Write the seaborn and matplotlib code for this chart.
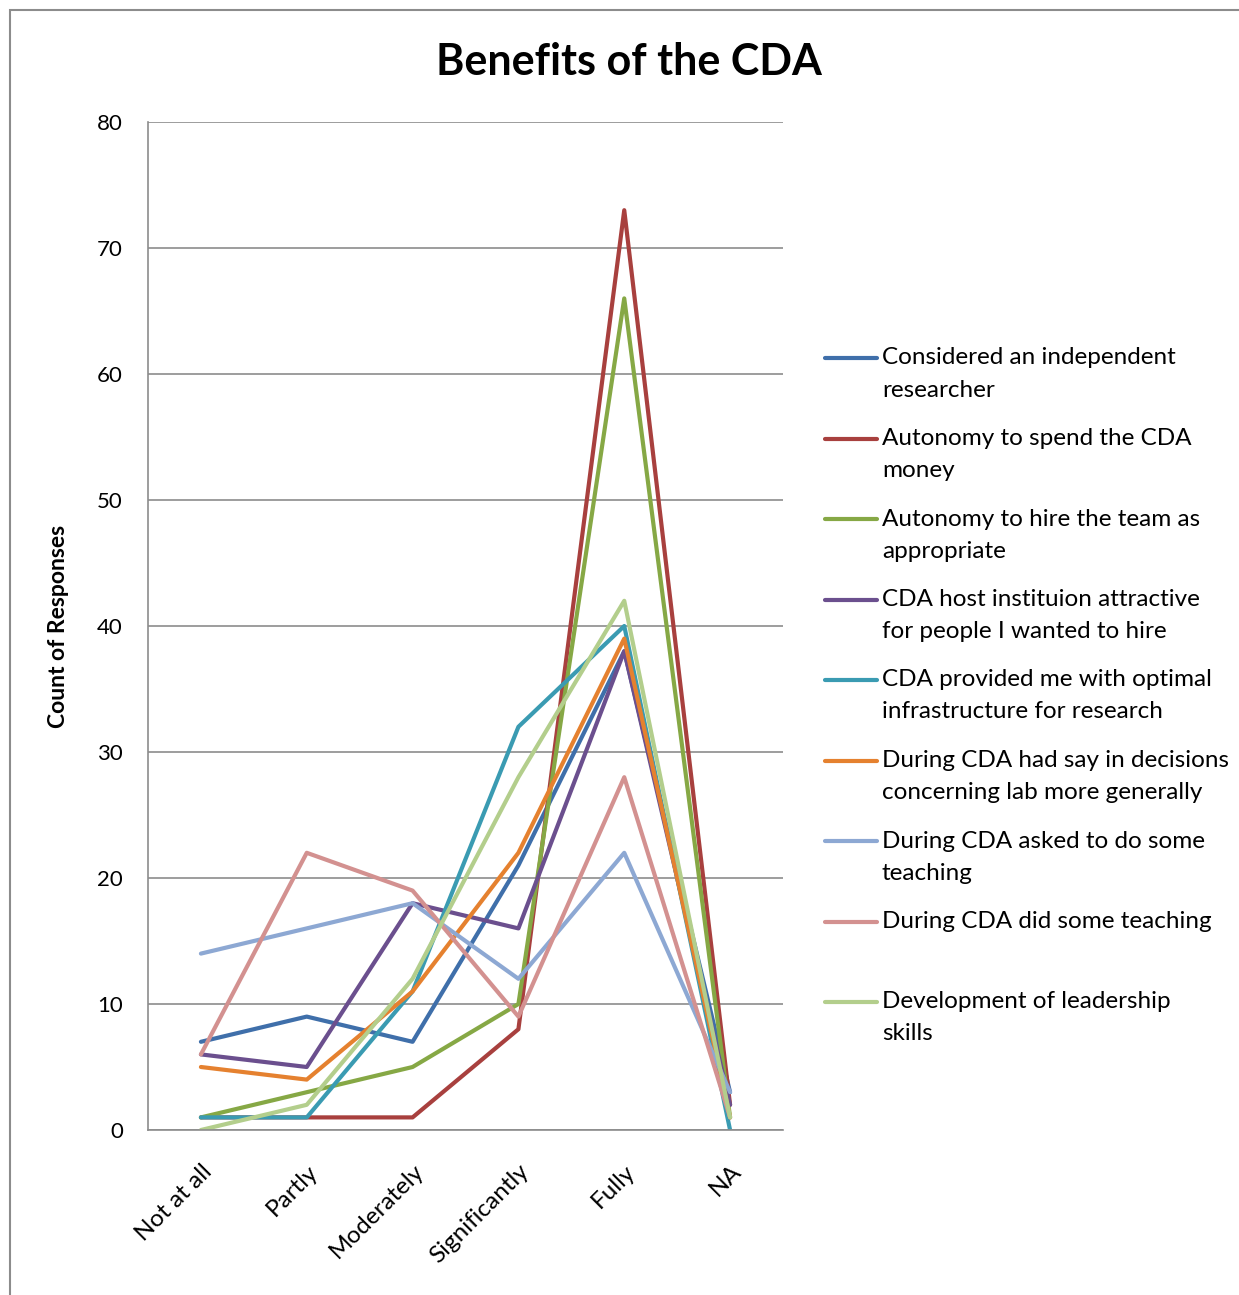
import matplotlib
matplotlib.use("Agg")
import matplotlib.pyplot as plt
from matplotlib.lines import Line2D
from matplotlib.patches import Rectangle
import seaborn as sns
import pandas as pd

# Response levels on the x axis
levels = ["Not at all", "Partly", "Moderately", "Significantly", "Fully", "NA"]

# Count of responses per benefit, one list per level above
independent_researcher = [7, 9, 7, 21, 38, 3]
autonomy_money = [1, 1, 1, 8, 73, 2]
autonomy_hire = [1, 3, 5, 10, 66, 1]
host_attractive = [6, 5, 18, 16, 38, 2]
optimal_infrastructure = [1, 1, 11, 32, 40, 0]
say_in_decisions = [5, 4, 11, 22, 39, 1]
asked_to_teach = [14, 16, 18, 12, 22, 3]
did_teaching = [6, 22, 19, 9, 28, 1]
leadership_skills = [0, 2, 12, 28, 42, 1]

series_names = [
    "Considered an independent\nresearcher",
    "Autonomy to spend the CDA\nmoney",
    "Autonomy to hire the team as\nappropriate",
    "CDA host instituion attractive\nfor people I wanted to hire",
    "CDA provided me with optimal\ninfrastructure for research",
    "During CDA had say in decisions\nconcerning lab more generally",
    "During CDA asked to do some\nteaching",
    "During CDA did some teaching",
    "Development of leadership\nskills",
]
series_values = [
    independent_researcher, autonomy_money, autonomy_hire, host_attractive,
    optimal_infrastructure, say_in_decisions, asked_to_teach, did_teaching,
    leadership_skills,
]
colors = ["#3F6FAA", "#A8403E", "#86A845", "#6B4F8E", "#3A9BB2",
          "#E5812F", "#8DA8D3", "#D39190", "#B3CE8C"]

rows = []
for name, vals in zip(series_names, series_values):
    for lvl, v in zip(levels, vals):
        rows.append({"Level": lvl, "Count": v, "Benefit": name})
df = pd.DataFrame(rows)

sns.set_theme(style="white")
plt.rcParams["font.family"] = ["Lato", "DejaVu Sans"]

W, H = 1239, 1295
fig = plt.figure(figsize=(W / 100, H / 100), dpi=100)
ax = fig.add_axes([148 / W, 1 - 1130 / H, (783 - 148) / W, (1130 - 122) / H])

sns.lineplot(data=df, x="Level", y="Count", hue="Benefit",
             hue_order=series_names, palette=colors, sort=False,
             linewidth=3.0, legend=False, ax=ax)

ax.set_xlim(-0.5, len(levels) - 0.5)
ax.set_ylim(0, 80)
ax.set_yticks(range(0, 81, 10))
ax.yaxis.grid(True, color="#8C8C8C", linewidth=1.2)
ax.set_axisbelow(True)
for side in ["top", "right"]:
    ax.spines[side].set_visible(False)
for side in ["left", "bottom"]:
    ax.spines[side].set_color("#8C8C8C")
    ax.spines[side].set_linewidth(1.2)

ax.set_xlabel("")
ax.set_ylabel("Count of Responses", fontsize=16.5, fontweight="bold",
              color="black", labelpad=20)
ax.tick_params(axis="y", length=0, pad=18, labelsize=16, labelcolor="black")
ax.tick_params(axis="x", length=0, pad=22, labelsize=17.5, labelcolor="black")
for lab in ax.get_xticklabels():
    lab.set_rotation(45)
    lab.set_ha("right")
    lab.set_va("top")
    lab.set_rotation_mode("anchor")

fig.text(629 / W, 1 - 62 / H, "Benefits of the CDA", ha="center",
         va="center", fontsize=31, fontweight="bold", color="black")

# Legend on the right, one slot per benefit
slot_y = [358, 438.5, 519, 599.5, 680, 760.5, 841, 921.5, 1002]
for name, col, y in zip(series_names, colors, slot_y):
    fig.add_artist(Line2D([825 / W, 877 / W], [1 - y / H, 1 - y / H],
                          color=col, linewidth=3.0,
                          transform=fig.transFigure))
    for k, line in enumerate(name.split("\n")):
        fig.text(882 / W, 1 - (y + 32 * k) / H, line, ha="left",
                 va="center", fontsize=17.5, color="black")

# Outer chart border
fig.add_artist(Rectangle((10 / W, -0.05), 1.1, 1 - 10 / H + 0.05,
                         fill=False, edgecolor="#8C8C8C", linewidth=1.5,
                         transform=fig.transFigure))

fig.savefig("out.png", dpi=100, facecolor="white")
